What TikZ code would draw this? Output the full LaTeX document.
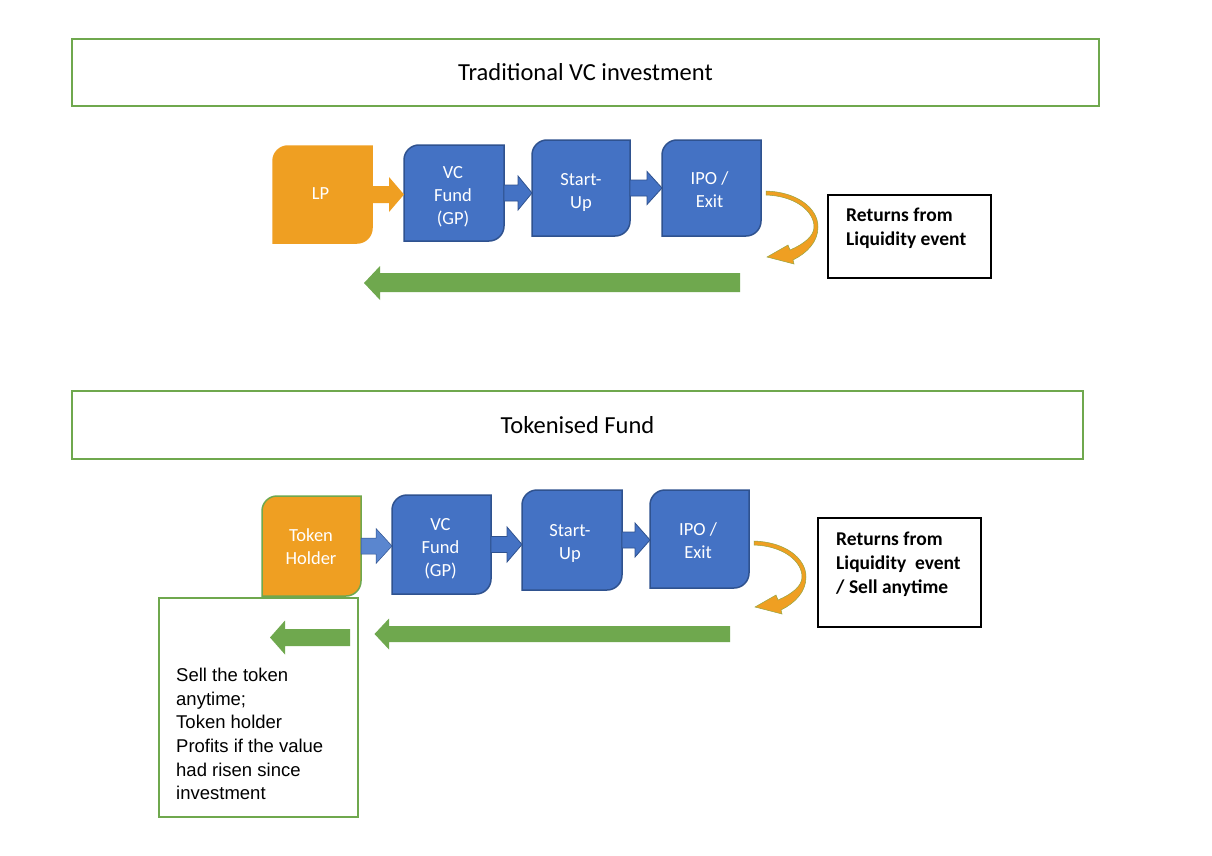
\documentclass[tikz,border=0pt]{standalone}
\usepackage{fontspec}
\setmainfont{Carlito}
\newfontfamily\arialf{Liberation Sans}
\usetikzlibrary{calc,backgrounds}
\definecolor{vcblue}{HTML}{4472C4}
\definecolor{vcblueD}{HTML}{2F528F}
\definecolor{lporange}{HTML}{EF9F22}
\definecolor{vcgreen}{HTML}{6FA84E}
\definecolor{tokblue}{HTML}{5A86CF}
\tikzset{
  titlebox/.style={draw=vcgreen, line width=2pt, inner sep=0, outer sep=0, font=\fontsize{24.5}{29}\selectfont},
  stepnode/.style={inner sep=0, outer sep=0},
  steptext/.style={inner sep=0, outer sep=0, text=white, align=center, font=\fontsize{18.5}{23}\selectfont},
  retbox/.style={draw=black, line width=1.5pt, inner sep=0, outer sep=0},
  rettext/.style={anchor=north west, inner sep=0, align=left, font=\bfseries\fontsize{19.5}{24}\selectfont},
  bluearr/.style={fill=vcblue, draw=vcblueD, line width=0.8pt},
  orangearr/.style={fill=lporange},
  tokarr/.style={fill=tokblue, draw=vcblueD, line width=0.5pt},
  greenarr/.style={fill=vcgreen},
  curvearr/.style={fill=lporange, draw=vcgreen!70!lporange, line width=0.5pt}
}
\newcommand\dgshape[3]{%
  \begin{pgfonlayer}{background}
  \path[fill=#2, draw=#3, line width=1.5pt]
    ($(#1.north west)+(0,15)$) .. controls ($(#1.north west)+(0,6.7)$) and ($(#1.north west)+(6.7,0)$) .. ($(#1.north west)+(15,0)$)
    -- (#1.north east) -- ($(#1.south east)+(0,-15)$)
    .. controls ($(#1.south east)+(0,-6.7)$) and ($(#1.south east)+(-6.7,0)$) .. ($(#1.south east)+(-15,0)$)
    -- (#1.south west) -- cycle;
  \end{pgfonlayer}}
\newcommand\fatarr[6]{%
  \coordinate (#1-#2-s) at (#1.east);
  \coordinate (#1-#2-t) at (#2.west |- #1.east);
  \path[#6] ($(#1-#2-s)+(0,-#4)$) -- ($(#1-#2-t)+(-#3,-#4)$) -- ($(#1-#2-t)+(-#3,-#5)$)
    -- (#1-#2-t) -- ($(#1-#2-t)+(-#3,#5)$) -- ($(#1-#2-t)+(-#3,#4)$)
    -- ($(#1-#2-s)+(0,#4)$) -- cycle;}
\newcommand\curvedarr[1]{%
  \begin{scope}[shift={(#1.north east)}]
  \path[curvearr] (5,51) .. controls (36,52) and (57,68) .. (57,87)
    .. controls (57,102) and (46,113) .. (32,120)
    -- (33,124) -- (6,117) -- (27,105) -- (29,110)
    .. controls (43,104) and (53,96) .. (53,87)
    .. controls (53,71) and (34,56) .. (5,55) -- cycle;
  \end{scope}}
\begin{document}
\begin{tikzpicture}[x=1pt, y=-1pt]
\begin{pgfonlayer}{background}
\fill[white] (0,0) rectangle (1212,856);
\end{pgfonlayer}
\useasboundingbox (0,0) rectangle (1212,856);

% ---------- Traditional VC ----------
\node[titlebox, minimum width=1027, minimum height=67] (t1) at (585.5,72.5) {Traditional VC investment};

\node[stepnode, minimum width=99, minimum height=97] (lp) at (322.5,194.5) {};
\node[stepnode, minimum width=100, minimum height=96] (vc1) at (454,193) {};
\node[stepnode, minimum width=98, minimum height=96] (su1) at (581,188) {};
\node[stepnode, minimum width=99, minimum height=96] (ipo1) at (711.5,188) {};
\dgshape{lp}{lporange}{lporange}
\dgshape{vc1}{vcblue}{vcblueD}
\dgshape{su1}{vcblue}{vcblueD}
\dgshape{ipo1}{vcblue}{vcblueD}
\node[steptext] (lpt) at (320.5,194) {LP};
\node[steptext] (vc1t) at (453,197) {VC\\Fund\\(GP)};
\node[steptext] (su1t) at (581,192) {Start-\\Up};
\node[steptext] (ipo1t) at (709.5,189.5) {IPO /\\Exit};

\fatarr{lp}{vc1}{15}{8.5}{17.5}{orangearr}
\fatarr{vc1}{su1}{14}{8}{17}{bluearr}
\fatarr{su1}{ipo1}{15}{8}{16.5}{bluearr}

\curvedarr{ipo1}

\node[retbox, minimum width=163, minimum height=83] (ret1) at (909.5,236.5) {};
\node[rettext] (ret1t) at (846,207.5) {Returns from\\Liquidity event};

\path[greenarr] (740,273) -- (380,273) -- (380,266) -- (364,283) -- (380,300) -- (380,292) -- (740,292) -- cycle;

% ---------- Tokenised Fund ----------
\node[titlebox, minimum width=1011, minimum height=68] (t2) at (577.5,425) {Tokenised Fund};

\node[stepnode, minimum width=99, minimum height=100] (th) at (311.5,546) {};
\node[stepnode, minimum width=99, minimum height=99] (vc2) at (441.5,544.5) {};
\node[stepnode, minimum width=100, minimum height=100] (su2) at (572,540) {};
\node[stepnode, minimum width=99, minimum height=98] (ipo2) at (699.5,539) {};
\dgshape{th}{lporange}{vcgreen}
\dgshape{vc2}{vcblue}{vcblueD}
\dgshape{su2}{vcblue}{vcblueD}
\dgshape{ipo2}{vcblue}{vcblueD}
\node[steptext] (tht) at (311,547) {Token\\Holder};
\node[steptext] (vc2t) at (440.5,549) {VC\\Fund\\(GP)};
\node[steptext] (su2t) at (570,543.5) {Start-\\Up};
\node[steptext] (ipo2t) at (698,541) {IPO /\\Exit};

\fatarr{th}{vc2}{16}{8}{17.5}{tokarr}
\fatarr{vc2}{su2}{15}{8}{17.5}{bluearr}
\fatarr{su2}{ipo2}{15}{8}{17}{bluearr}

\curvedarr{ipo2}

\node[retbox, minimum width=163, minimum height=109] (ret2) at (899.5,572.5) {};
\node[rettext] (ret2t) at (836,532) {Returns from\\Liquidity\ \ event\\/ Sell anytime};

\path[greenarr] (730,626) -- (389,626) -- (389,618.5) -- (374.5,634) -- (389,649.5) -- (389,642) -- (730,642) -- cycle;

\node[draw=vcgreen, line width=2pt, minimum width=199, minimum height=219, inner sep=0, outer sep=0] (sellbox) at (258.5,707.5) {};
\path[greenarr] (350,629) -- (285,629) -- (285,620.5) -- (270,637.5) -- (285,654.5) -- (285,646) -- (350,646) -- cycle;
\node[anchor=north west, inner sep=0, align=left, font=\arialf\fontsize{18.5}{23.6}\selectfont] (selltext) at (176,668) {Sell the token\\anytime;\\Token holder\\Profits if the value\\had risen since\\investment};
\end{tikzpicture}
\end{document}
